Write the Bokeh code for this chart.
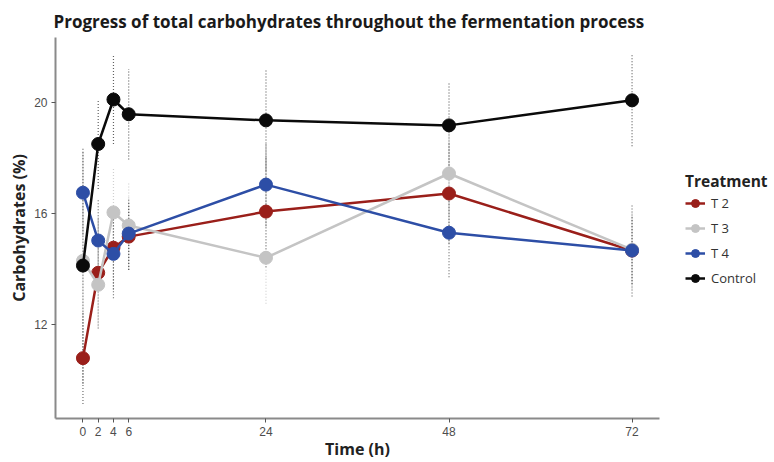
from bokeh.plotting import figure
from bokeh.layouts import row
from bokeh.models import FixedTicker, Legend, LegendItem, Range1d, ColumnDataSource
from bokeh.embed import file_html
from bokeh.resources import INLINE

time = [0, 2, 4, 6, 24, 48, 72]
t2 = [10.8, 13.87, 14.77, 15.17, 16.07, 16.72, 14.67]
t3 = [14.3, 13.44, 16.04, 15.57, 14.41, 17.44, 14.70]
t4 = [16.75, 15.03, 14.55, 15.28, 17.04, 15.31, 14.67]
control = [14.13, 18.5, 20.1, 19.57, 19.35, 19.17, 20.07]
sd_t2 = [1.65, 2.0, 1.5, 1.2, 2.0, 1.8, 1.65]
sd_t3 = [2.0, 1.5, 1.6, 1.55, 1.65, 1.5, 1.4]
sd_t4 = [1.5, 1.5, 1.6, 1.3, 1.5, 1.6, 1.2]
sd_ctrl = [4.25, 1.62, 1.6, 1.63, 1.8, 1.55, 1.65]
series_names = ["T 2", "T 3", "T 4", "Control"]
x_ticks = [0, 2, 4, 6, 24, 48, 72]
y_ticks = [12, 16, 20]

colors = ["#9a1f1a", "#c4c4c4", "#2d4ea6", "#0a0a0a"]
bar_colors = ["#555555", "#c8c8c8", "#555555", "#444444"]
values = [t2, t3, t4, control]
sds = [sd_t2, sd_t3, sd_t4, sd_ctrl]

H = 462
p = figure(width=660, height=H, output_backend="svg", toolbar_location=None,
           x_range=Range1d(-3.6, 75.6), y_range=Range1d(8.63, 22.33),
           min_border_left=55, min_border_right=1, min_border_top=37, min_border_bottom=0)

p.title.text = "Progress of total carbohydrates throughout the fermentation process"
p.title.text_font = "Open Sans"
p.title.text_font_size = "17px"
p.title.text_font_style = "bold"
p.title.text_color = "#1a1a1a"
p.title.offset = -2
p.title.standoff = 9

p.xgrid.visible = False
p.ygrid.visible = False
p.outline_line_color = None
p.background_fill_color = "white"
p.border_fill_color = "white"

for ax in (p.xaxis[0], p.yaxis[0]):
    ax.axis_line_color = "#8a8a8a"
    ax.axis_line_width = 2
    ax.major_tick_line_color = "#555555"
    ax.major_tick_in = 0
    ax.major_tick_out = 4
    ax.minor_tick_line_color = None
    ax.major_label_text_font = "Liberation Sans"
    ax.major_label_text_font_size = "12px"
    ax.major_label_text_color = "#4d4d4d"
    ax.axis_label_text_font = "Open Sans"
    ax.axis_label_text_font_size = "16px"
    ax.axis_label_text_font_style = "bold"
    ax.axis_label_text_color = "#222222"

p.xaxis.ticker = FixedTicker(ticks=x_ticks)
p.yaxis.ticker = FixedTicker(ticks=y_ticks)
p.xaxis.axis_label = "Time (h)"
p.yaxis.axis_label = "Carbohydrates (%)"
p.xaxis.major_label_standoff = 4
p.xaxis.axis_label_standoff = -1
p.yaxis.major_label_standoff = 4
p.yaxis.axis_label_standoff = 1

# error bars
for vals, sd, bc in zip(values, sds, bar_colors):
    src = ColumnDataSource(dict(x=time, lo=[v - s for v, s in zip(vals, sd)],
                                hi=[v + s for v, s in zip(vals, sd)]))
    p.segment(x0="x", x1="x", y0="lo", y1="hi", source=src,
              line_color=bc, line_width=1.2, line_dash="1 2", line_alpha=0.85)

for name, vals, col in zip(series_names, values, colors):
    src = ColumnDataSource(dict(x=time, y=vals))
    p.line("x", "y", source=src, line_color=col, line_width=2.5)
    p.scatter("x", "y", source=src, size=13, fill_color=col, line_color=col)

# legend panel
q = figure(width=110, height=H, output_backend="svg", toolbar_location=None,
           x_range=Range1d(0, 1), y_range=Range1d(0, 1),
           min_border=0, x_axis_type=None, y_axis_type=None)
q.xgrid.visible = False
q.ygrid.visible = False
q.outline_line_color = None
q.border_fill_color = "white"

items = []
for name, col in zip(series_names, colors):
    l = q.line(x=[-5, -4], y=[-5, -5], line_color=col, line_width=2.5)
    s = q.scatter(x=[-5], y=[-5], size=12, fill_color=col, line_color=col)
    items.append(LegendItem(label=name, renderers=[l, s]))

legend = Legend(items=items, title="Treatment", location=(25, 130))
legend.title_text_font = "Open Sans"
legend.title_text_font_style = "bold"
legend.title_text_font_size = "15.5px"
legend.title_text_color = "#222222"
legend.title_standoff = 1
legend.label_text_font = "Open Sans"
legend.label_text_font_size = "13px"
legend.label_text_color = "#333333"
legend.glyph_width = 20
legend.glyph_height = 20
legend.label_height = 20
legend.label_standoff = 6
legend.spacing = 5
legend.padding = 4
legend.margin = 0
legend.border_line_color = None
legend.background_fill_alpha = 0
q.add_layout(legend, "center")

layout = row(p, q)
open("out.html", "w").write(file_html(layout, INLINE))
